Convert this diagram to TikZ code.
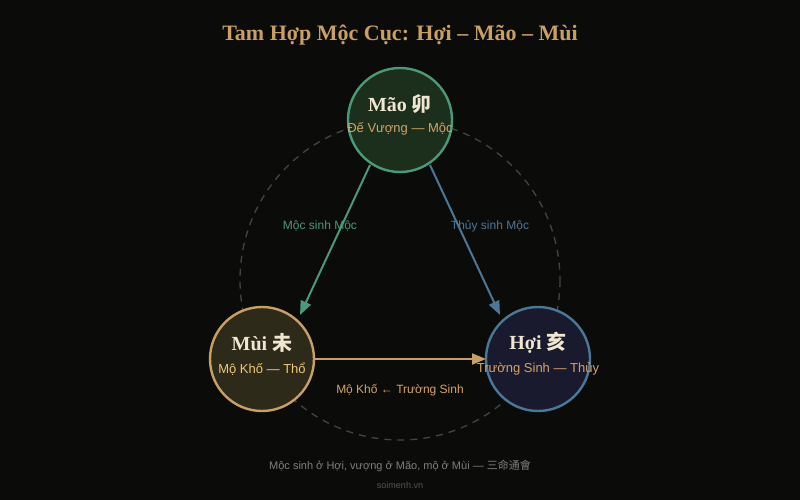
\documentclass[tikz,border=0pt]{standalone}
\usepackage{fontspec}
\setmainfont{Liberation Serif}
\setsansfont{Liberation Sans}
\newfontfamily\cjk{Noto Sans CJK SC}
\newfontfamily\cjkb{Noto Sans CJK SC Bold}
\usetikzlibrary{arrows.meta}
\definecolor{bg}{HTML}{0B0B0A}
\definecolor{gold}{HTML}{C9A063}
\definecolor{cream}{HTML}{F0E6D2}
\definecolor{subgold}{HTML}{D4A464}
\definecolor{subyel}{HTML}{F0C878}
\definecolor{grn}{HTML}{4A9A78}
\definecolor{blu}{HTML}{4A7898}
\definecolor{grnfill}{HTML}{1C2E1C}
\definecolor{yelfill}{HTML}{2E2A1A}
\definecolor{blufill}{HTML}{1A1A2E}
\definecolor{dashgray}{HTML}{444440}
\definecolor{foot}{HTML}{808080}
\definecolor{site}{HTML}{555555}
\begin{document}
\begin{tikzpicture}[x=1pt,y=-1pt,
  branch/.style={circle,minimum size=104pt,inner sep=0pt,line width=2.4pt},
  ttl/.style={font=\bfseries\fontsize{20}{20}\selectfont,text=cream},
  sub/.style={font=\sffamily\fontsize{13}{13}\selectfont},
  conn/.style={line width=2pt,-{Triangle[length=14pt,width=11pt]}},
  lbl/.style={font=\sffamily\fontsize{12}{12}\selectfont}]
\fill[bg] (0,0) rectangle (800,500);
\useasboundingbox (0,0) rectangle (800,500);
\node[font=\bfseries\fontsize{22}{22}\selectfont,text=gold] (title) at (400,35) {Tam Hợp Mộc Cục: Hợi – Mão – Mùi};
\draw[dashgray,line width=1.3pt,dash pattern=on 7pt off 6pt] (400,280) circle[radius=160];
\node[branch,draw=grn,fill=grnfill] (mao) at (400,120) {};
\node[branch,draw=gold,fill=yelfill] (mui) at (262,359) {};
\node[branch,draw=blu,fill=blufill] (hoi) at (538,359) {};
\node[ttl] (maot) at (400,104) {Mão {\cjkb 卯}};
\node[sub,text=subgold] (maos) at (400,129) {Đế Vượng — Mộc};
\node[ttl] (muit) at (262,343) {Mùi {\cjkb 未}};
\node[sub,text=subyel] (muis) at (262,369) {Mộ Khố — Thổ};
\node[ttl] (hoit) at (538,343) {Hợi {\cjkb 亥}};
\node[sub,text=subgold] (hois) at (538,369) {Trường Sinh — Thủy};
\coordinate (g1) at (370,165);
\coordinate (g2) at (300,315);
\coordinate (b1) at (430,165);
\coordinate (b2) at (500,315);
\coordinate (y1) at (314,359);
\coordinate (y2) at (486,359);
\draw[conn,grn] (g1) -- (g2);
\draw[conn,blu] (b1) -- (b2);
\draw[conn,gold] (y1) -- (y2);
\node[lbl,text=grn] (l1) at (320,226) {Mộc sinh Mộc};
\node[lbl,text=blu] (l2) at (490,226) {Thủy sinh Mộc};
\node[lbl,text=subgold] (l3) at (400,390) {Mộ Khố ← Trường Sinh};
\node[font=\sffamily\fontsize{11}{11}\selectfont,text=foot] (f1) at (400,466) {Mộc sinh ở Hợi, vượng ở Mão, mộ ở Mùi — {\cjk 三命通會}};
\node[font=\sffamily\fontsize{9}{9}\selectfont,text=site] (f2) at (400,485) {soimenh.vn};
\end{tikzpicture}
\end{document}
